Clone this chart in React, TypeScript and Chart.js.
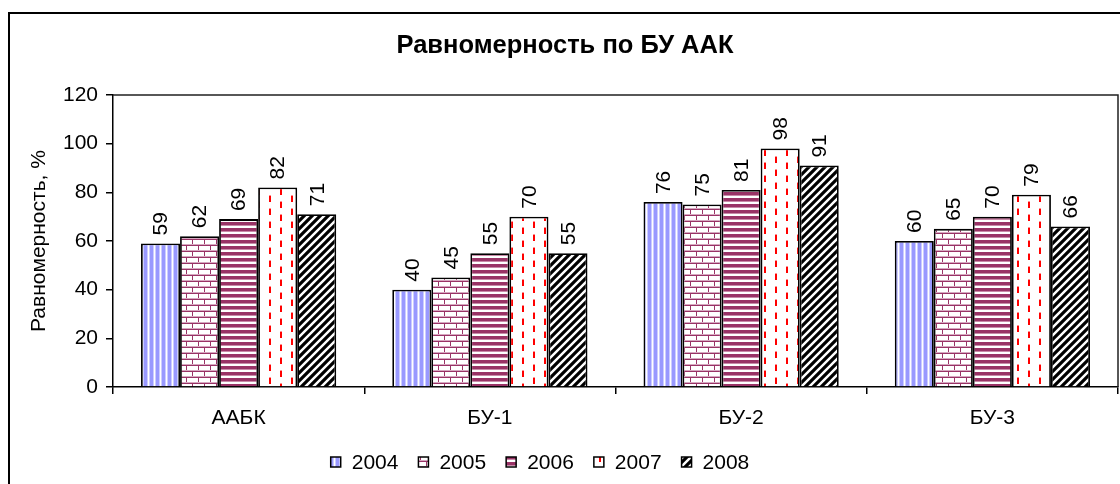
import React, { useEffect, useRef } from 'react';
import { Chart, registerables } from 'chart.js';

Chart.register(...registerables);

const categories = ['ААБК', 'БУ-1', 'БУ-2', 'БУ-3'];
const years = ['2004', '2005', '2006', '2007', '2008'];
const values2004 = [59, 40, 76, 60];
const values2005 = [62, 45, 75, 65];
const values2006 = [69, 55, 81, 70];
const values2007 = [82, 70, 98, 79];
const values2008 = [71, 55, 91, 66];
const yTicks = [0, 20, 40, 60, 80, 100, 120];
const titleText = 'Равномерность по БУ ААК';
const yAxisTitle = 'Равномерность, %';

const FAMILY = 'Arial, "Liberation Sans", sans-serif';
const FS = 21;

function makePattern(w: number, h: number, draw: (c: CanvasRenderingContext2D) => void): CanvasPattern {
  const cv = document.createElement('canvas');
  cv.width = w;
  cv.height = h;
  const c = cv.getContext('2d')!;
  c.fillStyle = '#ffffff';
  c.fillRect(0, 0, w, h);
  draw(c);
  return c.createPattern(cv, 'repeat')!;
}

function buildPatterns(): CanvasPattern[] {
  const p2004 = makePattern(6, 1, (c) => {
    c.fillStyle = '#9999ff';
    c.fillRect(0, 0, 3, 1);
    c.fillStyle = '#ccccff';
    c.fillRect(3, 0, 1, 1);
    c.fillRect(5, 0, 1, 1);
  });
  const p2005 = makePattern(12, 12, (c) => {
    c.fillStyle = '#993366';
    c.fillRect(0, 5, 12, 1);
    c.fillRect(0, 11, 12, 1);
    c.fillRect(0, 0, 1, 5);
    c.fillRect(6, 6, 1, 5);
    c.fillStyle = '#d6a8c0';
    c.fillRect(0, 4, 12, 1);
    c.fillRect(0, 10, 12, 1);
  });
  const p2006 = makePattern(1, 6, (c) => {
    c.fillStyle = '#993366';
    c.fillRect(0, 0, 1, 3);
    c.fillStyle = '#c88aa8';
    c.fillRect(0, 3, 1, 1);
  });
  const p2007 = makePattern(22, 13, (c) => {
    c.fillStyle = '#ff0000';
    c.fillRect(5, 1, 2, 6);
    c.fillRect(16, 7, 2, 6);
    c.fillStyle = '#ff9090';
    c.fillRect(5, 0, 2, 1);
    c.fillRect(16, 6, 2, 1);
  });
  const p2008 = makePattern(8, 8, (c) => {
    c.strokeStyle = '#000000';
    c.lineWidth = 3.2;
    c.beginPath();
    c.moveTo(-1, 9);
    c.lineTo(9, -1);
    c.moveTo(-5, 5);
    c.lineTo(5, -5);
    c.moveTo(3, 13);
    c.lineTo(13, 3);
    c.stroke();
  });
  return [p2004, p2005, p2006, p2007, p2008];
}

const decorPlugin = {
  id: 'decor',
  afterDraw(chart: any) {
    const ctx: CanvasRenderingContext2D = chart.ctx;
    const area = chart.chartArea;
    ctx.save();
    // plot area border (top and right)
    ctx.strokeStyle = '#202020';
    ctx.lineWidth = 1.5;
    ctx.beginPath();
    ctx.moveTo(area.left, area.top);
    ctx.lineTo(area.right, area.top);
    ctx.lineTo(area.right, area.bottom);
    ctx.stroke();

    // value labels
    ctx.fillStyle = '#000';
    ctx.font = `${FS}px ${FAMILY}`;
    ctx.textAlign = 'left';
    ctx.textBaseline = 'middle';
    chart.data.datasets.forEach((ds: any, di: number) => {
      const meta = chart.getDatasetMeta(di);
      meta.data.forEach((el: any, i: number) => {
        ctx.save();
        ctx.translate(el.x, el.y - 8);
        ctx.rotate(-Math.PI / 2);
        ctx.fillText(String(ds.data[i]), 0, 1);
        ctx.restore();
      });
    });

    // title
    ctx.font = `bold 25.5px ${FAMILY}`;
    ctx.textAlign = 'center';
    ctx.textBaseline = 'middle';
    ctx.fillText(titleText, 565, 46);

    // legend
    ctx.font = `${FS}px ${FAMILY}`;
    const box = 10;
    const gapBoxText = 11;
    const gapItems = 20;
    const widths = years.map((y) => ctx.measureText(y).width);
    const total = widths.reduce((a, w) => a + box + gapBoxText + w, 0) + gapItems * (years.length - 1);
    let x = 540 - total / 2;
    const cy = 462;
    ctx.textAlign = 'left';
    years.forEach((y, i) => {
      const ds = chart.data.datasets[i];
      ctx.fillStyle = ds.backgroundColor;
      ctx.fillRect(x, cy - box / 2, box, box);
      ctx.strokeStyle = '#000';
      ctx.lineWidth = 1.5;
      ctx.strokeRect(x, cy - box / 2, box, box);
      ctx.fillStyle = '#000';
      ctx.fillText(y, x + box + gapBoxText, cy + 1);
      x += box + gapBoxText + widths[i] + gapItems;
    });
    ctx.restore();
  },
};

export default function App() {
  const ref = useRef<HTMLCanvasElement | null>(null);

  useEffect(() => {
    const canvas = ref.current;
    if (!canvas) return;
    const patterns = buildPatterns();
    const series = [values2004, values2005, values2006, values2007, values2008];
    const font = { family: FAMILY, size: FS };
    const chart = new Chart(canvas, {
      type: 'bar',
      data: {
        labels: categories,
        datasets: series.map((vals, i) => ({
          label: years[i],
          data: vals,
          backgroundColor: patterns[i] as any,
          borderColor: '#000',
          borderWidth: 1.8,
          barPercentage: 1,
          categoryPercentage: 0.777,
        })),
      },
      options: {
        responsive: false,
        animation: false,
        devicePixelRatio: 1,
        layout: { padding: { top: 95, right: 2, left: 0, bottom: 0 } },
        plugins: {
          legend: { display: false },
          title: { display: false },
          tooltip: { enabled: false },
        },
        scales: {
          x: {
            offset: true,
            grid: { offset: true, drawOnChartArea: false, drawTicks: true, tickLength: 7, color: '#000', lineWidth: 1.5 },
            border: { color: '#000', width: 1.5 },
            ticks: { font, color: '#000', padding: 12 },
            afterFit: (s: any) => {
              s.height = 97;
              s.paddingLeft = 0;
              s.paddingRight = 0;
            },
          },
          y: {
            min: 0,
            max: 120,
            afterBuildTicks: (s: any) => {
              s.ticks = yTicks.map((v) => ({ value: v }));
            },
            ticks: { font, color: '#000', padding: 8 },
            grid: { drawOnChartArea: false, drawTicks: true, tickLength: 7, color: '#000', lineWidth: 1.5 },
            border: { color: '#000', width: 1.5 },
            title: { display: true, text: yAxisTitle, font, color: '#000', padding: { top: 27, bottom: 0 } },
            afterFit: (s: any) => {
              s.width = 113;
              s.paddingTop = 0;
              s.paddingBottom = 0;
            },
          },
        },
      } as any,
      plugins: [decorPlugin],
    });
    return () => chart.destroy();
  }, []);

  return (
    <div style={{ position: 'fixed', left: 0, top: 0, width: 1120, height: 484, overflow: 'hidden', background: '#fff' }}>
      <div
        style={{
          position: 'absolute',
          left: 8,
          top: 12,
          width: 1140,
          height: 520,
          border: '2px solid #000',
          boxSizing: 'border-box',
        }}
      />
      <canvas ref={ref} width={1120} height={484} style={{ position: 'absolute', left: 0, top: 0, width: 1120, height: 484 }} />
    </div>
  );
}
